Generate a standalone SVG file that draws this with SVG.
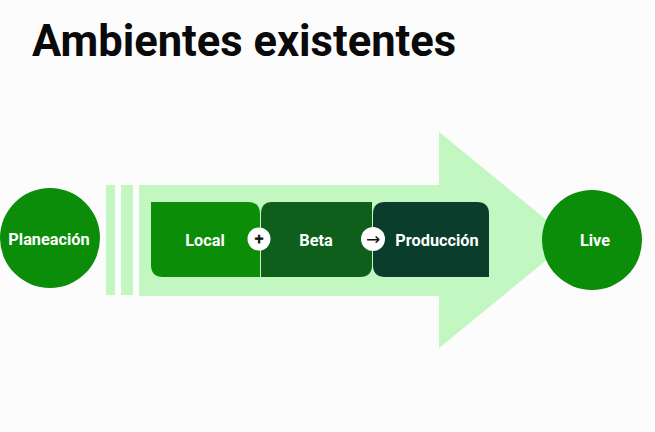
<svg xmlns="http://www.w3.org/2000/svg" width="655" height="432" viewBox="0 0 655 432">
<style>
.lbl{font-family:Roboto,"Liberation Sans",sans-serif;font-weight:bold;font-size:16.3px;fill:#ffffff;text-anchor:middle;dominant-baseline:central}
.sym{font-family:"DejaVu Sans",Roboto,sans-serif;fill:#111111;text-anchor:middle;dominant-baseline:central}
.light{fill:#c2f7c1}
</style>
<rect width="655" height="432" fill="#fcfcfd"/>
<text x="32" y="56" font-family="Roboto,'Liberation Sans',sans-serif" font-weight="bold" font-size="43.5" fill="#0a0a0a">Ambientes existentes</text>
<g id="flow-arrow">
<rect class="light" x="106" y="185" width="9" height="110"/>
<rect class="light" x="121" y="185" width="12" height="110"/>
<path class="light" d="M139 185 H439 V132 L571 240 L439 348 V296 H139 Z"/>
</g>
<g id="planeacion">
<circle cx="50" cy="238" r="50" fill="#0b8d09"/>
<text class="lbl" x="49" y="239">Planeación</text>
</g>
<g id="local">
<path d="M151 202 H248 Q260 202 260 214 V277 H163 Q151 277 151 265 Z" fill="#0b8d07"/>
<text class="lbl" x="205" y="240">Local</text>
</g>
<g id="beta">
<path d="M272 202 H372 V265 Q372 277 360 277 H261 V214 Q261 202 272 202 Z" fill="#0d5f1b"/>
<text class="lbl" x="316" y="240">Beta</text>
</g>
<g id="produccion">
<path d="M385 202 H477 Q489 202 489 214 V277 H385 Q373 277 373 265 V214 Q373 202 385 202 Z" fill="#0a3d2b"/>
<text class="lbl" x="437" y="240">Producción</text>
</g>
<g id="live">
<circle cx="592" cy="240" r="50" fill="#0b8d09"/>
<text class="lbl" x="595" y="240">Live</text>
</g>
<g id="connectors">
<circle cx="259" cy="239" r="11.5" fill="#ffffff"/>
<text class="sym" x="259" y="239" font-size="12" font-weight="bold" stroke="#111111" stroke-width="0.8">+</text>
<circle cx="373" cy="239" r="12" fill="#ffffff"/>
<text class="sym" x="373" y="239" font-size="17">→</text>
</g>
</svg>
